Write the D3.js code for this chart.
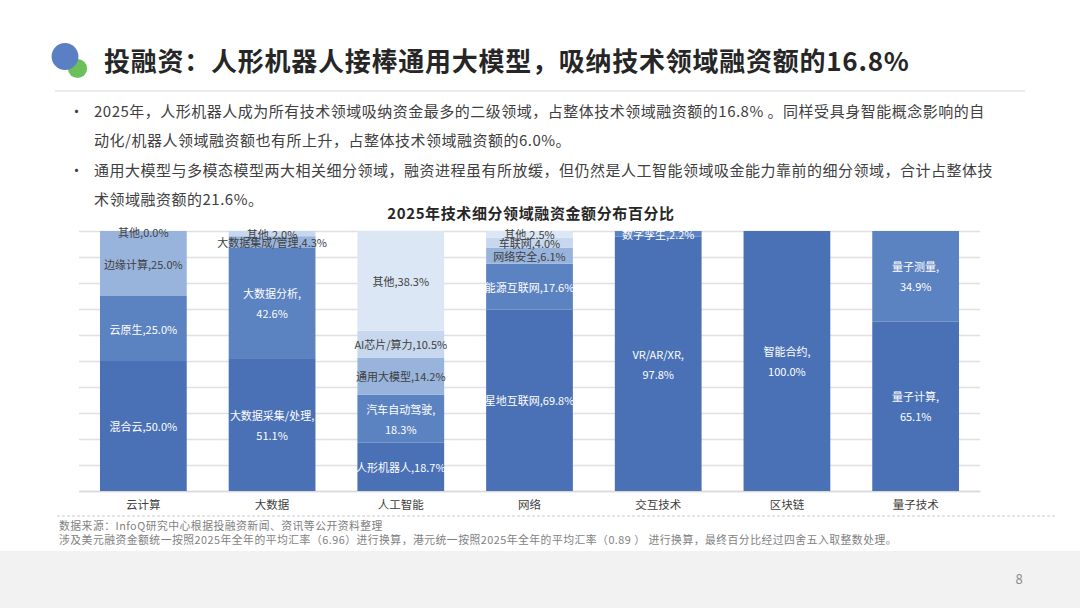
<!DOCTYPE html>
<html><head><meta charset="utf-8">
<script src="https://cdn.jsdelivr.net/npm/d3@7"></script>
<style>
html,body{margin:0;padding:0;background:#fff;}
svg{display:block;font-family:"Noto Sans CJK SC","Noto Sans",sans-serif;}
</style></head>
<body>
<svg id="c" width="1080" height="608"></svg>
<script>
// ---- data ----
const categories = ["云计算","大数据","人工智能","网络","交互技术","区块链","量子技术"];
const segmentNames = [
  ["混合云","云原生","边缘计算","其他"],
  ["大数据采集/处理","大数据分析","大数据集成/管理","其他"],
  ["人形机器人","汽车自动驾驶","通用大模型","AI芯片/算力","其他"],
  ["星地互联网","能源互联网","网络安全","车联网","其他"],
  ["VR/AR/XR","数字孪生"],
  ["智能合约"],
  ["量子计算","量子测量"]
];
const segmentValues = [
  [50.0,25.0,25.0,0.0],
  [51.1,42.6,4.3,2.0],
  [18.7,18.3,14.2,10.5,38.3],
  [69.8,17.6,6.1,4.0,2.5],
  [97.8,2.2],
  [100.0],
  [65.1,34.9]
];
const wrappedLabels = ["大数据采集/处理","大数据分析","汽车自动驾驶","VR/AR/XR","智能合约","量子计算","量子测量"];
const yTicks = [0,10,20,30,40,50,60,70,80,90,100];
const chartTitle = "2025年技术细分领域融资金额分布百分比";
const pageTitle = "投融资：人形机器人接棒通用大模型，吸纳技术领域融资额的16.8%";
const bulletLines = [
  ["2025年，人形机器人成为所有技术领域吸纳资金最多的二级领域，占整体技术领域融资额的16.8% 。同样受具身智能概念影响的自",
   "动化/机器人领域融资额也有所上升，占整体技术领域融资额的6.0%。"],
  ["通用大模型与多模态模型两大相关细分领域，融资进程虽有所放缓，但仍然是人工智能领域吸金能力靠前的细分领域，合计占整体技",
   "术领域融资额的21.6%。"]
];
const sourceLines = [
  "数据来源：InfoQ研究中心根据投融资新闻、资讯等公开资料整理",
  "涉及美元融资金额统一按照2025年全年的平均汇率（6.96）进行换算，港元统一按照2025年全年的平均汇率（0.89 ） 进行换算，最终百分比经过四舍五入取整数处理。"
];
const pageNumber = "8";

// ---- styles ----
const segColors = ["#4a71b5","#5b82c1","#98b4dc","#c6d7ee","#dce7f5"];
const labelColors = ["#ffffff","#ffffff","#404040","#404040","#404040"];

const svg = d3.select("#c");

// footer band
svg.append("rect").attr("x",0).attr("y",551).attr("width",1080).attr("height",57).attr("fill","#f2f2f2");
svg.append("text").attr("x",1019).attr("y",584).attr("text-anchor","middle")
  .attr("font-size",13).attr("fill","#8c8c8c").text(pageNumber);

// header
svg.append("circle").attr("cx",77.5).attr("cy",68.5).attr("r",9.6).attr("fill","#6cc05b");
svg.append("circle").attr("cx",65).attr("cy",56.5).attr("r",13.4).attr("fill","#5b7fc3");
svg.append("text").attr("x",104).attr("y",71).attr("font-size",26).attr("font-weight","bold")
  .attr("letter-spacing",0.75).attr("fill","#262626").text(pageTitle);
svg.append("line").attr("x1",55).attr("x2",1025).attr("y1",91).attr("y2",91)
  .attr("stroke","#d9d9d9").attr("stroke-width",1);

// bullets
const lineH = 29.3;
let ly = 117;
bulletLines.forEach(par => {
  svg.append("text").attr("x",69).attr("y",ly).attr("font-size",15).attr("fill","#404040").text("•");
  par.forEach(t => {
    svg.append("text").attr("x",94).attr("y",ly).attr("font-size",15).attr("letter-spacing",0.5)
      .attr("fill","#404040").text(t);
    ly += lineH;
  });
});

// chart
const m = {left:79, right:980, top:231, bottom:491};
const x = d3.scaleBand().domain(categories).range([m.left,m.right]).paddingInner(0.326).paddingOuter(0.163);
const y = d3.scaleLinear().domain([0,100]).range([m.bottom,m.top]);

svg.append("text").attr("x",531).attr("y",219).attr("text-anchor","middle")
  .attr("font-size",15).attr("letter-spacing",0.6).attr("font-weight","bold").attr("fill","#262626").text(chartTitle);

const yAxis = d3.axisLeft(y).tickValues(yTicks).tickSize(-(m.right-m.left)).tickFormat("");
const gy = svg.append("g").attr("transform",`translate(${m.left},0)`).call(yAxis);
gy.select(".domain").remove();
gy.selectAll(".tick line").attr("stroke","#e0e0e0").attr("stroke-width",1.5);

const xAxis = d3.axisBottom(x).tickSize(0).tickPadding(10);
const gx = svg.append("g").attr("transform",`translate(0,${m.bottom})`).call(xAxis);
gx.select(".domain").attr("stroke","#d9d9d9").attr("stroke-width",1.5);
gx.selectAll(".tick text").attr("font-size",11.5).attr("fill","#404040")
  .attr("font-family","'Noto Sans CJK SC',sans-serif");

const segs = [];
categories.forEach((c,ci) => {
  let acc = 0;
  segmentValues[ci].forEach((v,si) => {
    segs.push({cat:c, name:segmentNames[ci][si], v, y0:acc, y1:acc+v, si});
    acc += v;
  });
});

const bw = x.bandwidth();
svg.append("g").selectAll("rect").data(segs.filter(d=>d.v>0)).join("rect")
  .attr("x",d=>x(d.cat)).attr("width",bw)
  .attr("y",d=>y(d.y1)).attr("height",d=>y(d.y0)-y(d.y1))
  .attr("fill",d=>segColors[d.si]);

const lg = svg.append("g").attr("font-size",11).attr("text-anchor","middle");
segs.forEach(d => {
  const cx = x(d.cat)+bw/2;
  let cy = (y(d.y0)+y(d.y1))/2;
  if (d.v === 0) cy = y(d.y1) + 1;
  const pct = d.v.toFixed(1)+"%";
  const t = lg.append("text").attr("fill",labelColors[d.si]).attr("dominant-baseline","central");
  if (wrappedLabels.includes(d.name)) {
    t.append("tspan").attr("x",cx).attr("y",cy-10).text(d.name+",");
    t.append("tspan").attr("x",cx).attr("y",cy+10).text(pct);
  } else {
    t.attr("x",cx).attr("y",cy).text(d.name+","+pct);
  }
});

// source
svg.append("line").attr("x1",57).attr("x2",1055).attr("y1",516).attr("y2",516)
  .attr("stroke","#c8c8c8").attr("stroke-width",1).attr("stroke-dasharray","3,2");
sourceLines.forEach((t,i) => {
  svg.append("text").attr("x",59).attr("y",530+i*14).attr("font-size",10.8).attr("letter-spacing",0.5)
    .attr("fill","#7f7f7f").text(t);
});
</script>
</body></html>
